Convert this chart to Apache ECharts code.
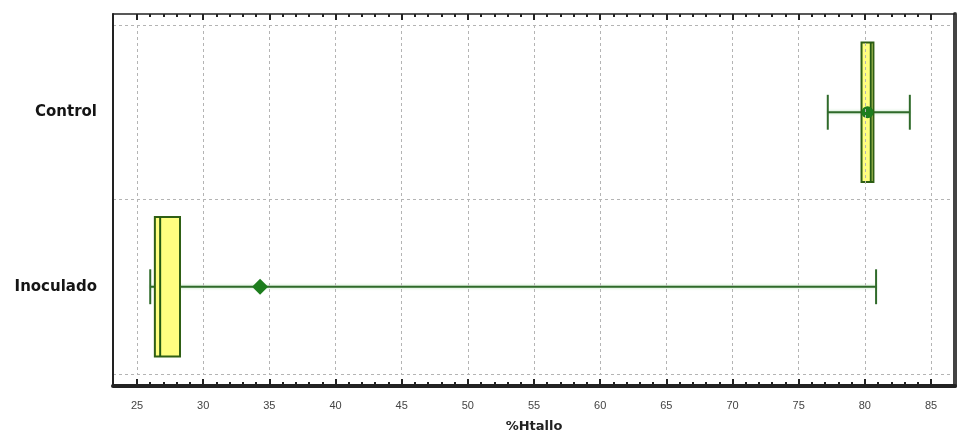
<!DOCTYPE html>
<html>
<head>
<meta charset="utf-8">
<script src="https://cdn.jsdelivr.net/npm/echarts@6/dist/echarts.min.js"></script>
<style>
  html, body { margin: 0; padding: 0; background: #fff; }
  #chart { width: 961px; height: 436px; }
</style>
</head>
<body>
<div id="chart"></div>
<script>
// Groups and box-plot statistics of %Htallo
const categories = ['Inoculado', 'Control'];
const whiskerLow = [26.0, 77.2];
const q1 = [26.35, 79.75];
const median = [26.75, 80.45];
const q3 = [28.25, 80.65];
const whiskerHigh = [80.85, 83.4];
const meanValues = [34.3, 80.2];
const meanShapes = ['diamond', 'circle'];

// Value-axis tick settings
const xMin = 25;
const xMax = 85;
const xStep = 5;
const axisTitle = '%Htallo';

const data = categories.map((c, i) => [i, whiskerLow[i], q1[i], median[i], q3[i], whiskerHigh[i], meanValues[i]]);

const lineGreen = '#2f6a2a';
const boxStroke = '#2f5f14';
const boxFill = '#ffff80';
const meanGreen = '#1d7d1d';

function renderItem(params, api) {
  const cat = api.value(0);
  const band = api.size([0, 1])[1];
  const y = api.coord([xMin, cat])[1];
  const px = v => api.coord([v, cat])[0];
  const lo = px(api.value(1)), b1 = px(api.value(2)), md = px(api.value(3));
  const b3 = px(api.value(4)), hi = px(api.value(5)), mn = px(api.value(6));
  const boxH = band * 0.8;
  const capH = band * 0.2;
  const children = [
    { type: 'line', shape: { x1: lo, y1: y, x2: hi, y2: y },
      style: { stroke: lineGreen, lineWidth: 2, shadowBlur: 3, shadowColor: 'rgba(120,200,120,0.6)' } },
    { type: 'line', shape: { x1: lo, y1: y - capH / 2, x2: lo, y2: y + capH / 2 },
      style: { stroke: lineGreen, lineWidth: 2 } },
    { type: 'line', shape: { x1: hi, y1: y - capH / 2, x2: hi, y2: y + capH / 2 },
      style: { stroke: lineGreen, lineWidth: 2 } },
    { type: 'rect', shape: { x: b1, y: y - boxH / 2, width: b3 - b1, height: boxH },
      style: { fill: boxFill, stroke: boxStroke, lineWidth: 2 } },
    { type: 'line', shape: { x1: md, y1: y - boxH / 2, x2: md, y2: y + boxH / 2 },
      style: { stroke: '#245a14', lineWidth: 2 } }
  ];
  const shape = meanShapes[params.dataIndex];
  if (shape === 'circle') {
    children.push({ type: 'circle', shape: { cx: mn, cy: y, r: 6 }, style: { fill: meanGreen } });
  } else {
    const r = 8;
    children.push({ type: 'polygon',
      shape: { points: [[mn - r, y], [mn, y - r], [mn + r, y], [mn, y + r]] },
      style: { fill: meanGreen } });
  }
  return { type: 'group', children };
}

const chart = echarts.init(document.getElementById('chart'), null, { renderer: 'canvas' });

const hidden = { show: false };
const dashed = { show: true, lineStyle: { color: '#b4b4b4', type: [3, 3], width: 1 } };

chart.setOption({
  animation: false,
  backgroundColor: '#ffffff',
  grid: [
    // outer frame
    { left: 113, right: 6, top: 14, bottom: 50, outerBoundsMode: 'none', containLabel: false },
    // category bands (full frame width)
    { left: 113, right: 6, top: 25, bottom: 62, outerBoundsMode: 'none', containLabel: false },
    // scaled plotting area
    { left: 137, right: 30, top: 25, bottom: 62, outerBoundsMode: 'none', containLabel: false }
  ],
  xAxis: [
    { gridIndex: 0, type: 'value', min: 0, max: 1, position: 'bottom',
      axisLine: { show: true, onZero: false, lineStyle: { color: '#222', width: 4 } },
      axisTick: hidden, axisLabel: hidden, splitLine: hidden, z: 10 },
    { gridIndex: 0, type: 'value', min: 0, max: 1, position: 'top',
      axisLine: { show: true, onZero: false, lineStyle: { color: '#222', width: 1.5 } },
      axisTick: hidden, axisLabel: hidden, splitLine: hidden, z: 10 },
    { gridIndex: 1, type: 'value', min: 0, max: 1, show: false },
    { gridIndex: 2, type: 'value', min: xMin, max: xMax, interval: xStep, position: 'bottom',
      offset: 11,
      name: axisTitle, nameLocation: 'middle', nameGap: 35,
      nameTextStyle: { fontFamily: 'DejaVu Sans', fontWeight: 'bold', fontSize: 13, color: '#222' },
      axisLine: { show: false, onZero: false },
      axisTick: { show: true, inside: true, length: 6, lineStyle: { color: '#222', width: 2 } },
      minorTick: { show: true, splitNumber: 5, length: 3, lineStyle: { color: '#222', width: 2 } },
      axisLabel: { margin: 15, fontFamily: 'Liberation Sans', fontSize: 11, color: '#444' },
      splitLine: dashed, z: 5 },
    { gridIndex: 2, type: 'value', min: xMin, max: xMax, interval: xStep, position: 'top',
      offset: 11,
      axisLine: { show: false, onZero: false },
      axisTick: { show: true, inside: true, length: 6, lineStyle: { color: '#222', width: 2 } },
      minorTick: { show: true, splitNumber: 5, length: 3, lineStyle: { color: '#222', width: 2 } },
      axisLabel: hidden, splitLine: hidden, z: 5 }
  ],
  yAxis: [
    { gridIndex: 0, type: 'value', min: 0, max: 1, position: 'left',
      axisLine: { show: true, onZero: false, lineStyle: { color: '#222', width: 2 } },
      axisTick: hidden, axisLabel: hidden, splitLine: hidden, z: 10 },
    { gridIndex: 0, type: 'value', min: 0, max: 1, position: 'right',
      axisLine: { show: true, onZero: false, lineStyle: { color: '#444', width: 4 } },
      axisTick: hidden, axisLabel: hidden, splitLine: hidden, z: 10 },
    { gridIndex: 1, type: 'category', data: categories,
      axisLine: hidden, axisTick: hidden, axisLabel: hidden, splitLine: dashed },
    { gridIndex: 2, type: 'category', data: categories,
      axisLine: hidden, axisTick: hidden, splitLine: hidden,
      axisLabel: { margin: 40, fontFamily: 'DejaVu Sans', fontWeight: 'bold', fontSize: 15, color: '#151515' } }
  ],
  series: [{
    type: 'custom',
    xAxisIndex: 3,
    yAxisIndex: 3,
    renderItem: renderItem,
    encode: { x: [1, 2, 3, 4, 5, 6], y: 0 },
    data: data,
    z: 3
  }]
});
</script>
</body>
</html>
